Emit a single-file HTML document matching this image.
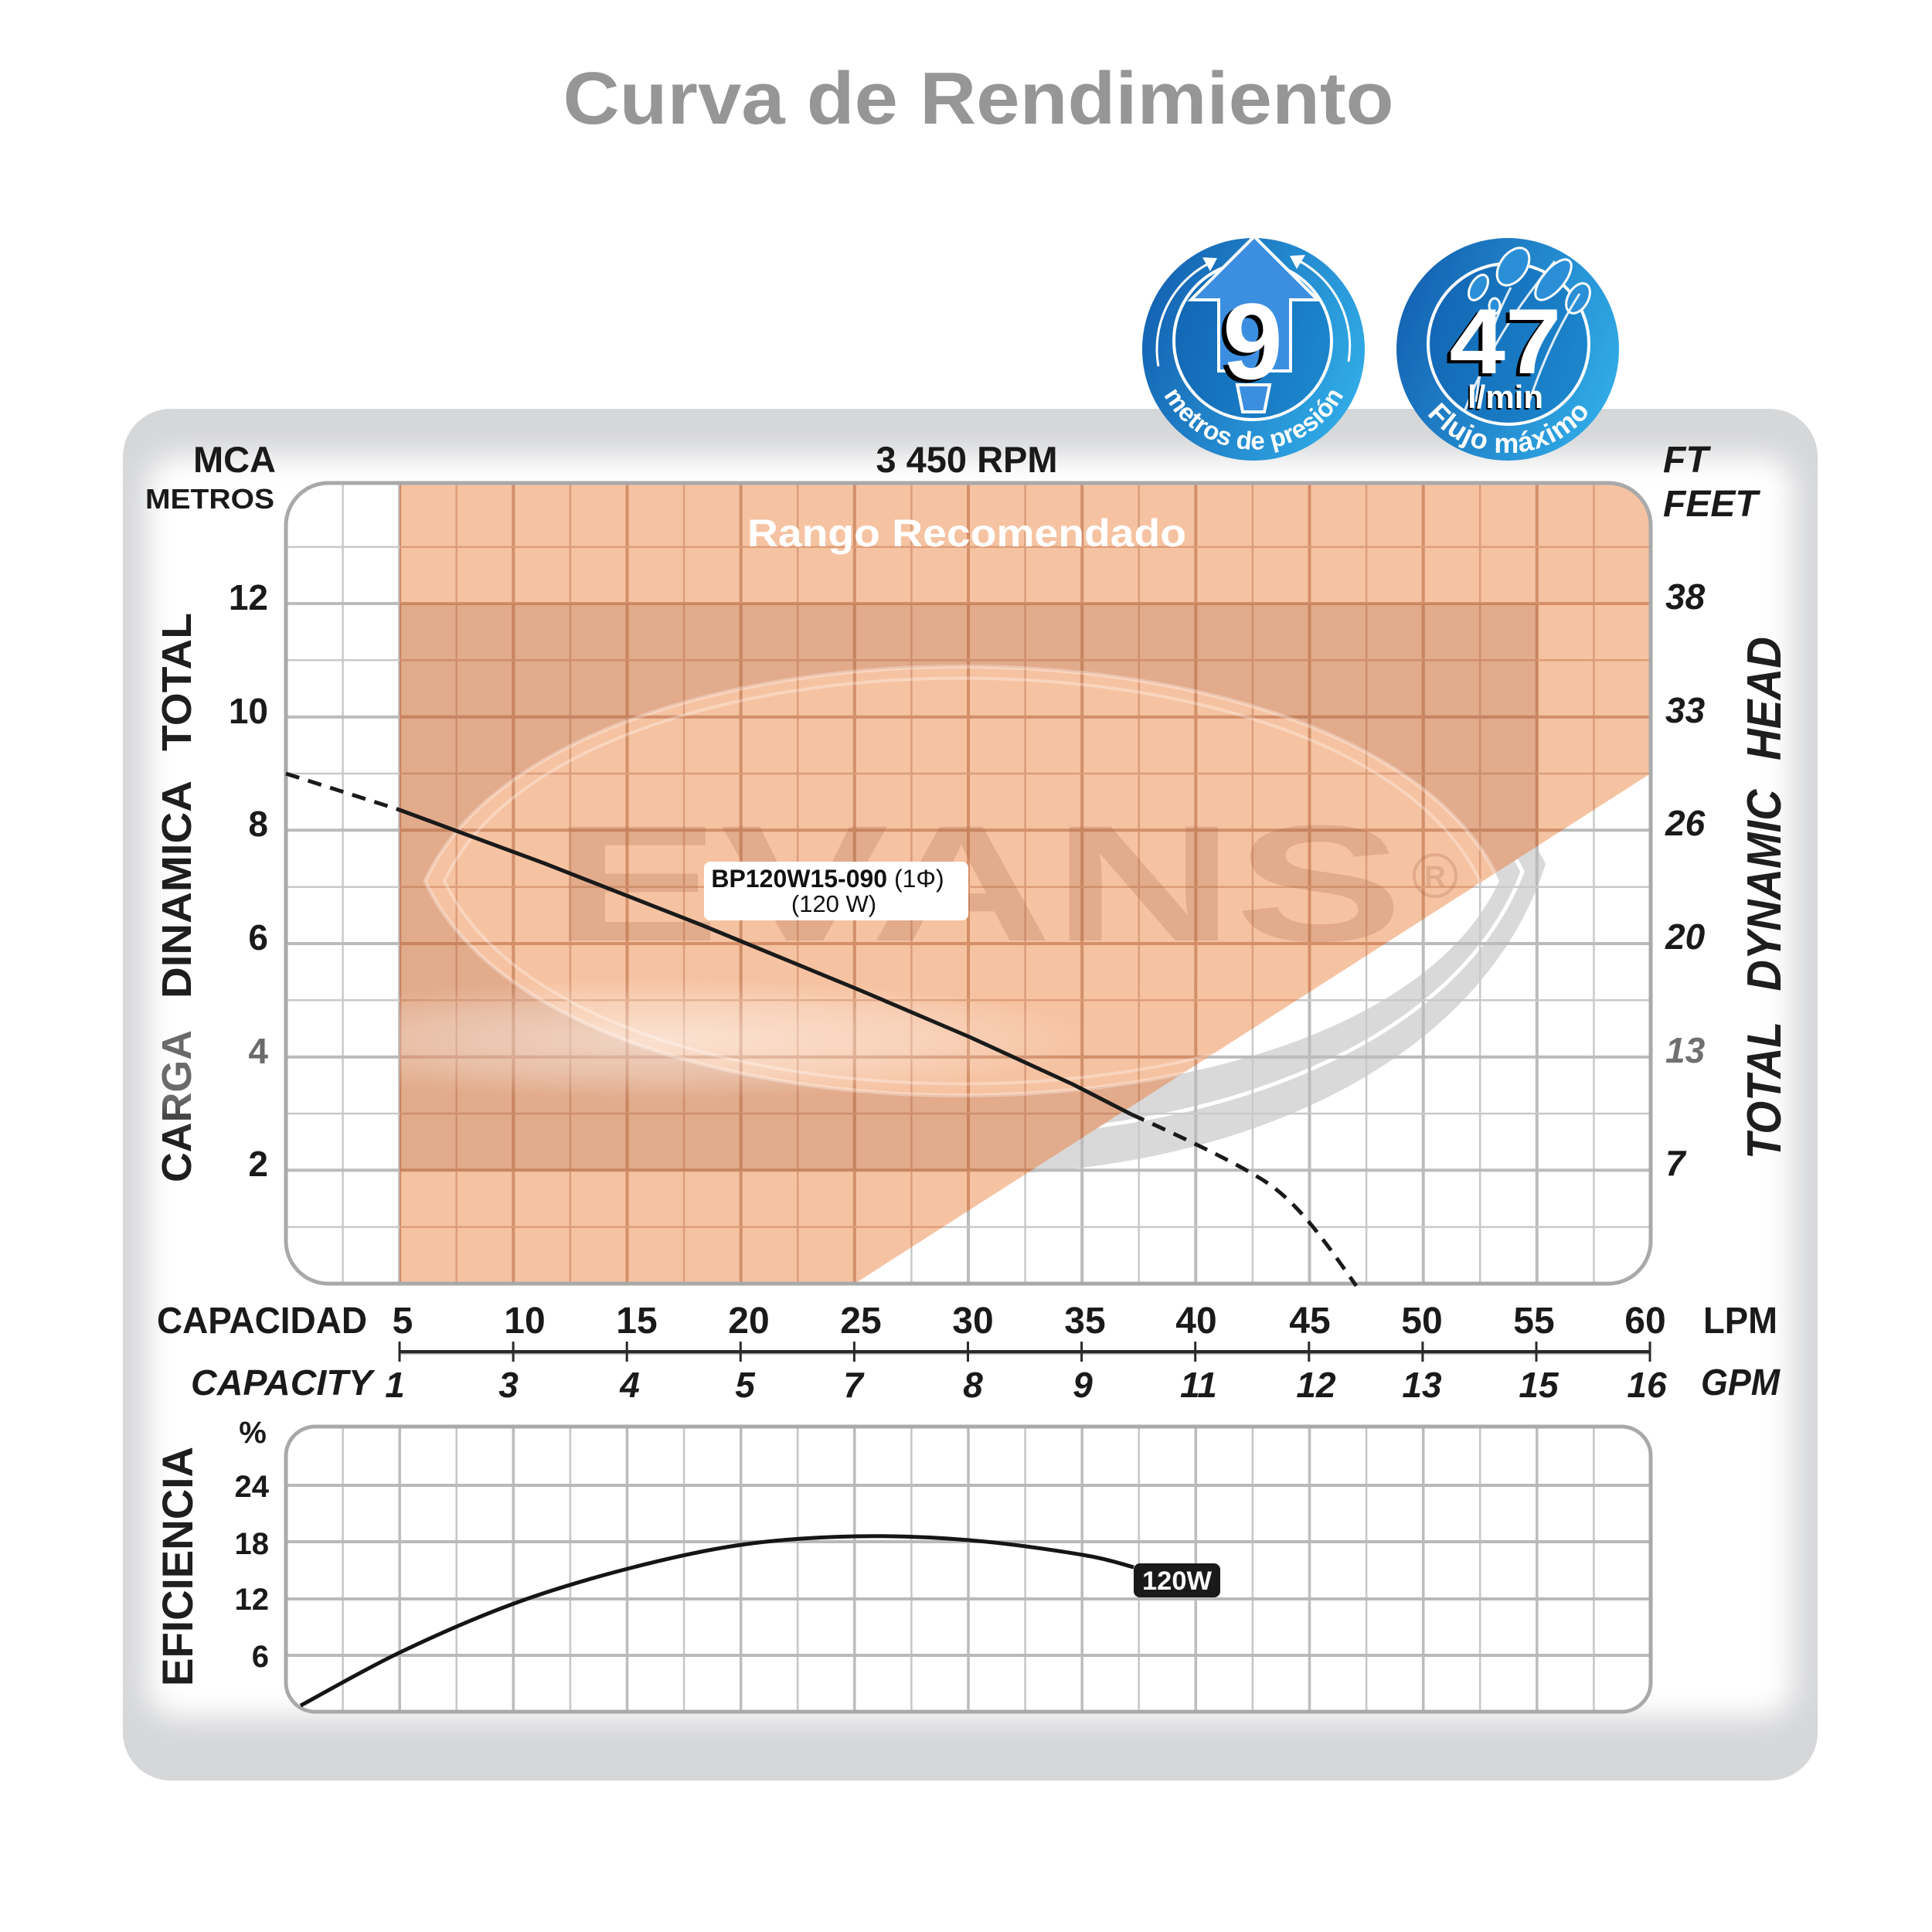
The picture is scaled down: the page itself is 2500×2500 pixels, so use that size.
<!DOCTYPE html>
<html><head><meta charset="utf-8"><style>
html,body{margin:0;padding:0;background:#fff;overflow:hidden;width:2500px;height:2500px;}
svg{display:block;}
text{font-family:"Liberation Sans",Arial,sans-serif;}
</style></head><body>
<svg xmlns="http://www.w3.org/2000/svg" xmlns:xlink="http://www.w3.org/1999/xlink" width="2500" height="2500" viewBox="0 0 2500 2500">
<defs>
  <linearGradient id="bg1" x1="0" y1="0.2" x2="1" y2="0.6">
    <stop offset="0" stop-color="#1360b0"/><stop offset="1" stop-color="#30aae6"/>
  </linearGradient>
  <linearGradient id="in1" x1="0" y1="0" x2="1" y2="0.3">
    <stop offset="0" stop-color="#1264b2"/><stop offset="1" stop-color="#1b84cb"/>
  </linearGradient>
  <linearGradient id="cargaG" x1="0" y1="0" x2="1" y2="0">
    <stop offset="0" stop-color="#1e1e1e"/><stop offset="0.3" stop-color="#1e1e1e"/>
    <stop offset="0.55" stop-color="#6a6a6a"/><stop offset="1" stop-color="#6a6a6a"/>
  </linearGradient>
  <radialGradient id="glare" cx="0.5" cy="0.5" r="0.5">
    <stop offset="0" stop-color="#fff" stop-opacity="0.5"/>
    <stop offset="0.6" stop-color="#fff" stop-opacity="0.25"/>
    <stop offset="1" stop-color="#fff" stop-opacity="0"/>
  </radialGradient>
  <filter id="blur" x="-10%" y="-10%" width="120%" height="120%"><feGaussianBlur stdDeviation="18"/></filter>
  <clipPath id="plotclip"><rect x="370" y="625" width="1766" height="1036" rx="55"/></clipPath>
  <clipPath id="orangeclip"><polygon points="517,600 2170,600 2170,979 1106,1661 517,1661"/></clipPath>
  <clipPath id="effclip"><rect x="370" y="1846" width="1766" height="369" rx="38"/></clipPath>

  <path id="vmin" d="M443.6,625V1661M590.7,625V1661M737.9,625V1661M885.1,625V1661M1032.2,625V1661M1179.4,625V1661M1326.6,625V1661M1473.7,625V1661M1620.9,625V1661M1768.1,625V1661M1915.2,625V1661M2062.4,625V1661"/>
  <path id="vmaj" d="M517.2,625V1661M664.3,625V1661M811.5,625V1661M958.7,625V1661M1105.8,625V1661M1253,625V1661M1400.2,625V1661M1547.3,625V1661M1694.5,625V1661M1841.7,625V1661M1988.8,625V1661"/>
  <path id="hmin" d="M370,1587.7H2136M370,1441H2136M370,1294.3H2136M370,1147.7H2136M370,1001H2136M370,854.3H2136M370,707.7H2136"/>
  <path id="hmaj" d="M370,1514.3H2136M370,1367.7H2136M370,1221H2136M370,1074.3H2136M370,927.7H2136M370,781H2136"/>
  <path id="evmin" d="M443.6,1846V2215M590.7,1846V2215M737.9,1846V2215M885.1,1846V2215M1032.2,1846V2215M1179.4,1846V2215M1326.6,1846V2215M1473.7,1846V2215M1620.9,1846V2215M1768.1,1846V2215M1915.2,1846V2215M2062.4,1846V2215"/>
  <path id="evmaj" d="M517.2,1846V2215M664.3,1846V2215M811.5,1846V2215M958.7,1846V2215M1105.8,1846V2215M1253,1846V2215M1400.2,1846V2215M1547.3,1846V2215M1694.5,1846V2215M1841.7,1846V2215M1988.8,1846V2215"/>

  <path id="arc1" d="M1499.9,496.8 A131,131 0 0,0 1745.1,496.8"/>
  <path id="arc2" d="M1837.4,523 A134,134 0 0,0 2067,519"/>
</defs>

<rect width="2500" height="2500" fill="#ffffff"/>

<!-- Title -->
<text x="1266" y="160" font-size="96" font-weight="bold" fill="#969696" text-anchor="middle" textLength="1075" lengthAdjust="spacingAndGlyphs">Curva de Rendimiento</text>

<!-- Panel -->
<rect x="159" y="529" width="2193" height="1775" rx="62" fill="#d6d7d9"/>
<rect x="190" y="590" width="2131" height="1632" rx="40" fill="#ffffff" filter="url(#blur)"/>

<!-- ============ Upper plot ============ -->
<rect x="370" y="625" width="1766" height="1036" rx="55" fill="#ffffff"/>
<g clip-path="url(#plotclip)">
  <path d="M525,1140 C700,735 1800,720 2000,1118 C1830,1650 700,1650 525,1140 Z M550,1140 C720,770 1770,770 1940,1140 C1770,1510 720,1510 550,1140 Z" fill="#d9d9d9" fill-rule="evenodd"/>
  <path d="M540,1140 C710,752 1785,745 1970,1128 C1800,1580 710,1580 540,1140 Z" fill="none" stroke="#ffffff" stroke-width="5"/>
  <polygon points="517,600 2170,600 2170,979 1106,1661 517,1661" fill="#f6c3a2"/>
  <use xlink:href="#vmin" stroke="#c9c9c9" stroke-width="2.5" fill="none"/>
  <use xlink:href="#vmaj" stroke="#bbbbbb" stroke-width="4" fill="none"/>
  <use xlink:href="#hmin" stroke="#c9c9c9" stroke-width="2.5" fill="none"/>
  <use xlink:href="#hmaj" stroke="#bbbbbb" stroke-width="4" fill="none"/>
  <g clip-path="url(#orangeclip)">
    <use xlink:href="#vmin" stroke="#dd9d78" stroke-width="2.5" fill="none"/>
    <use xlink:href="#vmaj" stroke="#d48f69" stroke-width="4" fill="none"/>
    <use xlink:href="#hmin" stroke="#dd9d78" stroke-width="2.5" fill="none"/>
    <use xlink:href="#hmaj" stroke="#d48f69" stroke-width="4" fill="none"/>
    <path d="M517,781H1990V1515H517Z M550,1140 C720,770 1770,770 1940,1140 C1770,1510 720,1510 550,1140 Z" fill="rgb(169,98,72)" fill-opacity="0.25" fill-rule="evenodd"/>
    <text x="714" y="1217" font-size="214" font-weight="bold" fill="rgb(169,98,72)" fill-opacity="0.25" textLength="1102" lengthAdjust="spacingAndGlyphs">EVANS</text>
    <circle cx="1857" cy="1133" r="27" fill="none" stroke="rgb(169,98,72)" stroke-opacity="0.25" stroke-width="4"/>
    <text x="1857" y="1147" font-size="38" font-weight="bold" fill="rgb(169,98,72)" fill-opacity="0.25" text-anchor="middle">R</text>
    <path d="M550,1140 C720,770 1770,770 1940,1140 C1770,1510 720,1510 550,1140 Z" fill="none" stroke="#ffffff" stroke-opacity="0.3" stroke-width="5"/>
    <path d="M575,1140 C740,790 1750,790 1915,1140 C1750,1490 740,1490 575,1140 Z" fill="none" stroke="#ffffff" stroke-opacity="0.3" stroke-width="4"/>
    <ellipse cx="860" cy="1345" rx="560" ry="78" fill="url(#glare)"/>
  </g>
</g>
<rect x="370" y="625" width="1766" height="1036" rx="55" fill="none" stroke="#a9a9a9" stroke-width="5"/>

<text x="1251" y="707" font-size="50" font-weight="bold" fill="#ffffff" text-anchor="middle" textLength="568" lengthAdjust="spacingAndGlyphs">Rango Recomendado</text>

<!-- Head curve -->
<path d="M370,1001 L517,1048" fill="none" stroke="#1a1a1a" stroke-width="5" stroke-dasharray="18 12"/>
<path d="M517,1048 L704,1117 L908,1197 L1112,1281 L1255,1342 L1388,1403 L1464,1442" fill="none" stroke="#1a1a1a" stroke-width="5" stroke-linejoin="round"/>
<path d="M1464,1442 C1520,1467 1590,1500 1626,1522 C1672,1548 1705,1592 1755,1664" fill="none" stroke="#1a1a1a" stroke-width="5" stroke-dasharray="18 12"/>

<!-- label box -->
<rect x="911" y="1115" width="342" height="76" rx="8" fill="#ffffff"/>
<text x="1071" y="1148" font-size="32" text-anchor="middle" fill="#111"><tspan font-weight="bold">BP120W15-090</tspan> (1Φ)</text>
<text x="1079" y="1180" font-size="31" text-anchor="middle" fill="#111">(120 W)</text>

<!-- Axis titles & labels upper -->
<text x="357" y="611" font-size="47" font-weight="bold" fill="#1a1a1a" text-anchor="end">MCA</text>
<text x="355" y="658" font-size="36" font-weight="bold" fill="#1a1a1a" text-anchor="end" textLength="167" lengthAdjust="spacingAndGlyphs">METROS</text>
<text x="1251" y="611" font-size="47" font-weight="bold" fill="#1a1a1a" text-anchor="middle">3 450 RPM</text>
<text x="2152" y="611" font-size="48" font-weight="bold" font-style="italic" fill="#1a1a1a">FT</text>
<text x="2152" y="668" font-size="48" font-weight="bold" font-style="italic" fill="#1a1a1a">FEET</text>

<g font-size="46" font-weight="bold" fill="#1a1a1a" text-anchor="end">
  <text x="347" y="789">12</text>
  <text x="347" y="936">10</text>
  <text x="347" y="1082">8</text>
  <text x="347" y="1229">6</text>
  <text x="347" y="1376" fill="#6a6a6a">4</text>
  <text x="347" y="1522">2</text>
</g>
<g font-size="46" font-weight="bold" font-style="italic" fill="#1a1a1a">
  <text x="2155" y="788">38</text>
  <text x="2155" y="935">33</text>
  <text x="2155" y="1081">26</text>
  <text x="2155" y="1228">20</text>
  <text x="2155" y="1375" fill="#707070">13</text>
  <text x="2155" y="1521">7</text>
</g>

<g font-size="54" font-weight="bold" fill="#1e1e1e" text-anchor="middle">
  <text x="247" y="882.5" transform="rotate(-90 247 882.5)" textLength="179" lengthAdjust="spacingAndGlyphs">TOTAL</text>
  <text x="247" y="1151" transform="rotate(-90 247 1151)" textLength="282" lengthAdjust="spacingAndGlyphs">DINAMICA</text>
  <text x="247" y="1431.5" transform="rotate(-90 247 1431.5)" textLength="197" lengthAdjust="spacingAndGlyphs" fill="url(#cargaG)">CARGA</text>
</g>
<g font-size="62" font-weight="bold" font-style="italic" fill="#1e1e1e" text-anchor="middle">
  <text x="2304" y="904" transform="rotate(-90 2304 904)" textLength="160" lengthAdjust="spacingAndGlyphs">HEAD</text>
  <text x="2304" y="1152" transform="rotate(-90 2304 1152)" textLength="261" lengthAdjust="spacingAndGlyphs">DYNAMIC</text>
  <text x="2304" y="1411" transform="rotate(-90 2304 1411)" textLength="178" lengthAdjust="spacingAndGlyphs">TOTAL</text>
</g>

<!-- X axis -->
<text x="203" y="1725" font-size="48" font-weight="bold" fill="#1a1a1a" textLength="272" lengthAdjust="spacingAndGlyphs">CAPACIDAD</text>
<g font-size="48" font-weight="bold" fill="#1a1a1a" text-anchor="middle">
  <text x="521" y="1725">5</text>
  <text x="679" y="1725">10</text>
  <text x="824" y="1725">15</text>
  <text x="969" y="1725">20</text>
  <text x="1114" y="1725">25</text>
  <text x="1259" y="1725">30</text>
  <text x="1404" y="1725">35</text>
  <text x="1548" y="1725">40</text>
  <text x="1695" y="1725">45</text>
  <text x="1840" y="1725">50</text>
  <text x="1985" y="1725">55</text>
  <text x="2129" y="1725">60</text>
</g>
<text x="2204" y="1725" font-size="48" font-weight="bold" fill="#1a1a1a" textLength="96" lengthAdjust="spacingAndGlyphs">LPM</text>
<line x1="517" y1="1751" x2="2135" y2="1751" stroke="#9a9a9a" stroke-width="3"/>
<line x1="517" y1="1749" x2="2135" y2="1749" stroke="#2a2a2a" stroke-width="4"/>
<path d="M517,1736V1762M664.1,1736V1762M811.2,1736V1762M958.3,1736V1762M1105.4,1736V1762M1252.5,1736V1762M1399.6,1736V1762M1546.7,1736V1762M1693.8,1736V1762M1840.9,1736V1762M1988,1736V1762M2135,1736V1762" stroke="#2a2a2a" stroke-width="3"/>
<text x="247" y="1805" font-size="46" font-weight="bold" font-style="italic" fill="#1a1a1a" textLength="235" lengthAdjust="spacingAndGlyphs">CAPACITY</text>
<g font-size="46" font-weight="bold" font-style="italic" fill="#1a1a1a" text-anchor="middle">
  <text x="511" y="1808">1</text>
  <text x="658" y="1808">3</text>
  <text x="815" y="1808">4</text>
  <text x="964" y="1808">5</text>
  <text x="1104" y="1808">7</text>
  <text x="1259" y="1808">8</text>
  <text x="1401" y="1808">9</text>
  <text x="1551" y="1808">11</text>
  <text x="1703" y="1808">12</text>
  <text x="1840" y="1808">13</text>
  <text x="1991" y="1808">15</text>
  <text x="2131" y="1808">16</text>
</g>
<text x="2201" y="1805" font-size="48" font-weight="bold" font-style="italic" fill="#1a1a1a" textLength="102" lengthAdjust="spacingAndGlyphs">GPM</text>

<!-- ============ Efficiency plot ============ -->
<rect x="370" y="1846" width="1766" height="369" rx="38" fill="#ffffff"/>
<g clip-path="url(#effclip)">
  <use xlink:href="#evmin" stroke="#c6c6c6" stroke-width="2.5" fill="none"/>
  <use xlink:href="#evmaj" stroke="#bcbcbc" stroke-width="3.5" fill="none"/>
  <path d="M370,1922H2136M370,1995H2136M370,2069H2136M370,2142H2136" stroke="#b9b9b9" stroke-width="4" fill="none"/>
</g>
<rect x="370" y="1846" width="1766" height="369" rx="38" fill="none" stroke="#a9a9a9" stroke-width="5"/>

<path d="M389,2207 C410.5,2195.5 472,2160 518,2138 C564,2116 616,2093 665,2075 C714,2057 763,2042.7 812,2030 C861,2017.3 909.8,2006 959,1999 C1008.2,1992 1057.8,1989 1107,1988 C1156.2,1987 1205,1989 1254,1993 C1303,1997 1365.5,2006.2 1401,2012 C1436.5,2017.8 1456,2025.3 1467,2028" fill="none" stroke="#151515" stroke-width="5"/>
<rect x="1467" y="2023" width="112" height="44" rx="8" fill="#1a1a1a"/>
<text x="1523" y="2057" font-size="34" font-weight="bold" fill="#ffffff" text-anchor="middle" textLength="90" lengthAdjust="spacingAndGlyphs">120W</text>

<text x="327" y="1867" font-size="40" font-weight="bold" fill="#1a1a1a" text-anchor="middle">%</text>
<g font-size="40" font-weight="bold" fill="#1a1a1a" text-anchor="end">
  <text x="348" y="1937">24</text>
  <text x="348" y="2011">18</text>
  <text x="348" y="2083">12</text>
  <text x="348" y="2157">6</text>
</g>
<text x="249" y="2027" transform="rotate(-90 249 2027)" font-size="56" font-weight="bold" fill="#1e1e1e" text-anchor="middle" textLength="310" lengthAdjust="spacingAndGlyphs">EFICIENCIA</text>

<!-- ============ Badges ============ -->
<circle cx="1622" cy="452" r="144" fill="url(#bg1)"/>
<circle cx="1621" cy="441" r="102" fill="url(#in1)" stroke="#ffffff" stroke-width="4"/>
<path d="M1499,474 A125,125 0 0,1 1562,342" fill="none" stroke="#ffffff" stroke-width="3"/>
<polygon points="1575,334 1556,333 1566,351" fill="#ffffff"/>
<path d="M1745,468 A125,125 0 0,0 1682,338" fill="none" stroke="#ffffff" stroke-width="3"/>
<polygon points="1669,331 1689,330 1678,348" fill="#ffffff"/>
<polygon points="1623,306 1705,388 1670,388 1670,480 1577,480 1577,388 1541,388" fill="#3c8fe0" stroke="#ffffff" stroke-width="4" stroke-linejoin="miter"/>
<polygon points="1601,498 1643,498 1636,533 1608,533" fill="#3c8fe0" stroke="#ffffff" stroke-width="4"/>
<text x="1615" y="494" font-size="140" font-weight="bold" fill="#000000" text-anchor="middle">9</text>
<text x="1621" y="490" font-size="140" font-weight="bold" fill="#ffffff" text-anchor="middle">9</text>
<text font-size="33" font-weight="bold" fill="#ffffff"><textPath xlink:href="#arc1" startOffset="50%" text-anchor="middle">metros de presión</textPath></text>

<circle cx="1951" cy="452" r="144" fill="url(#bg1)"/>
<circle cx="1952" cy="445" r="104" fill="url(#in1)" stroke="#ffffff" stroke-width="4"/>
<g fill="#2b8fd8" stroke="#ffffff" stroke-width="3">
  <ellipse cx="1958" cy="345" rx="17" ry="27" transform="rotate(35 1958 345)"/>
  <ellipse cx="2010" cy="362" rx="14" ry="32" transform="rotate(40 2010 362)"/>
  <ellipse cx="2042" cy="386" rx="13" ry="21" transform="rotate(30 2042 386)"/>
  <ellipse cx="1913" cy="372" rx="10" ry="18" transform="rotate(30 1913 372)"/>
  <ellipse cx="1934" cy="396" rx="7" ry="10"/>
</g>
<path d="M2012,338 C1960,400 1922,460 1896,530 M2044,380 C2012,430 1992,480 1978,522 M1955,372 C1930,420 1915,470 1910,520" fill="none" stroke="#ffffff" stroke-width="3" stroke-opacity="0.85"/>
<text x="1943" y="487" font-size="120" font-weight="bold" fill="#000000" text-anchor="middle" textLength="145" lengthAdjust="spacingAndGlyphs">47</text>
<text x="1948" y="483" font-size="120" font-weight="bold" fill="#ffffff" text-anchor="middle" textLength="145" lengthAdjust="spacingAndGlyphs">47</text>
<text x="1946" y="530" font-size="42" font-weight="bold" fill="#000000" text-anchor="middle">l/min</text>
<text x="1948" y="528" font-size="42" font-weight="bold" fill="#ffffff" text-anchor="middle">l/min</text>
<text font-size="36" font-weight="bold" fill="#ffffff" letter-spacing="1"><textPath xlink:href="#arc2" startOffset="50%" text-anchor="middle">Flujo máximo</textPath></text>

</svg>
</body></html>
